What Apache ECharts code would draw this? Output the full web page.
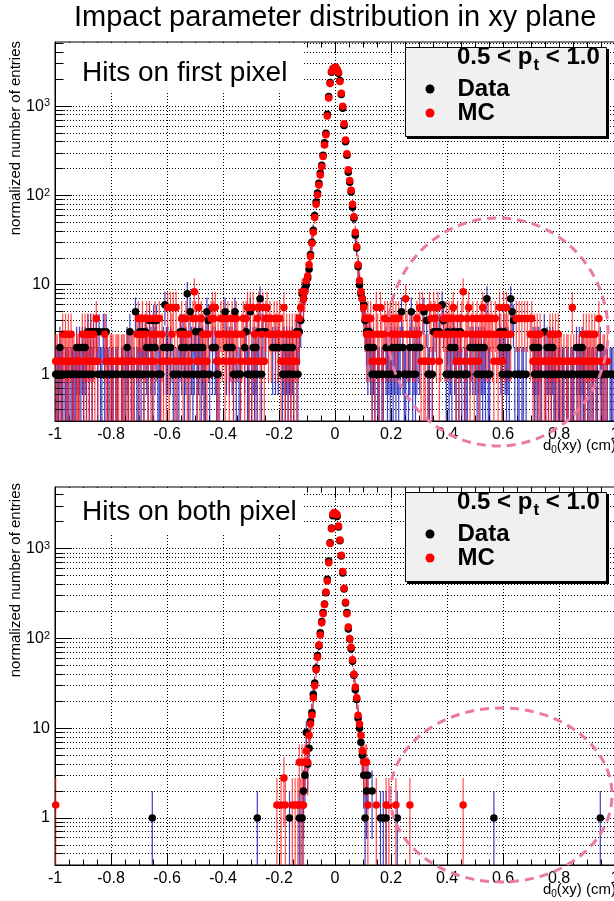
<!DOCTYPE html>
<html>
<head>
<meta charset="utf-8">
<script src="https://cdn.jsdelivr.net/npm/echarts@6/dist/echarts.min.js"></script>
<style>html,body{margin:0;padding:0;background:#fff}#c{width:614px;height:901px}</style>
</head>
<body>
<div id="c"></div>
<script>
// ---------------- data ----------------
const binLow = -1;          // histogram range [-1, 1] cm
const binWidth = 0.005;     // 400 bins
const mcWeight = 1.4;       // weight of one MC entry (for MC error bars)
const titleText = 'Impact parameter distribution in xy plane';
const panelLabels = ['Hits on first pixel', 'Hits on both pixel'];
const seriesNames = ['Data', 'MC'];
const yGridValues = [0.4,0.5,0.6,0.7,0.8,0.9,1,2,3,4,5,6,7,8,9,10,20,30,40,50,60,70,80,90,
  100,200,300,400,500,600,700,800,900,1000,2000,3000,4000,5000];
const yDecades = [1, 10, 100, 1000];

// top panel: hits on first pixel
const topData = [
1,1,1,2,1,1,0,1,1,1,0,1,1,1,1,2,1,2,1,2,
1,2,1,3,1,3,1,3,0,3,1,3,1,1,3,1,3,1,1,0,
1,1,0,1,1,0,0,1,1,0,1,2,1,3,1,0,1,5,1,1,
3,1,3,1,3,2,1,4,2,1,4,2,4,1,1,1,0,2,6,2,
2,0,2,0,1,0,1,0,1,3,2,3,1,2,8,1,5,2,1,2,
3,1,2,3,1,2,1,1,5,4,1,0,2,0,2,1,1,0,0,0,
0,5,2,0,2,0,2,1,5,1,0,1,1,0,0,2,3,1,1,5,
1,2,1,2,1,3,7,1,3,0,3,0,0,0,0,2,0,2,0,2,
0,0,1,2,1,2,1,2,1,2,1,0,3,1,3,4,8,7,9,10,
12,15,22,30,41,60,85,107,138,178,219,284,390,500,814,1290,1850,2400,2600,2700,
2650,2550,2350,1950,1360,950,610,400,284,183,141,110,74,56,36,26,16,10,8,7,
6,4,3,2,3,2,1,2,1,0,1,1,0,1,1,0,2,1,2,1,
2,1,2,1,2,1,2,5,2,1,1,0,1,2,5,1,2,1,2,0,
2,0,0,5,0,4,1,1,0,1,3,0,3,0,3,0,6,4,0,1,
3,1,2,1,3,2,1,3,1,3,1,0,1,1,1,0,2,0,2,0,
2,1,2,1,2,1,2,1,7,1,1,0,0,0,0,0,0,3,2,1,
3,2,1,2,1,7,5,4,1,0,1,1,0,1,1,0,1,0,0,0,
0,2,1,2,1,2,1,1,0,3,1,2,1,2,1,2,1,1,0,1,
1,0,1,1,0,1,1,0,1,1,1,0,2,1,2,1,2,1,1,0,
1,1,0,1,1,0,1,1,0,2,1,1,0,1,1,0,1,1,1,0
];
const topMC = [
1.4,1.4,0,1.4,1.4,2.8,1.4,2.8,1.4,2.8,1.4,2.8,1.4,1.4,0,1.4,1.4,1.4,0,2.8,
1.4,2.8,1.4,2.8,1.4,2.8,1.4,2.8,1.4,4.2,1.4,0,0,0,0,2.8,1.4,1.4,0,1.4,
1.4,1.4,0,1.4,1.4,1.4,0,1.4,1.4,1.4,0,1.4,1.4,0,1.4,1.4,1.4,0,2.8,4.2,
1.4,2.8,4.2,1.4,2.8,4.2,1.4,4.2,1.4,2.8,1.4,4.2,2.8,0,4.2,1.4,2.8,1.4,0,1.4,
5.6,1.4,5.6,2.8,5.6,1.4,5.6,1.4,0,2.8,4.2,1.4,2.8,4.2,1.4,2.8,1.4,0,4.2,8.4,
4.2,1.4,5.6,1.4,4.2,2.8,1.4,2.8,1.4,2.8,0,4.2,5.6,4.2,5.6,1.4,2.8,1.4,4.2,2.8,
4.2,1.4,2.8,4.2,1.4,2.8,4.2,1.4,2.8,4.2,2.8,0,1.4,2.8,4.2,1.4,4.2,5.6,1.4,5.6,
1.4,5.6,2.8,1.4,4.2,5.6,1.4,2.8,5.6,1.4,4.2,5.6,2.8,4.2,2.8,0,4.2,2.8,4.2,2.8,
4.2,1.4,2.8,5.6,1.4,2.8,1.4,2.8,1.4,2.8,1.4,2.8,1.4,2.8,4.2,5.6,8.4,7,8.4,11.2,
12.6,16.8,21,29.4,39,57,80,102,132,170,210,275,370,480,780,1240,1800,2450,2650,2600,
2750,2600,2400,1900,1400,1000,640,420,295,195,148,115,80,58,39,27,16.8,11.2,8.4,7,
5.6,4.2,2.8,4.2,2.8,4.2,1.4,2.8,1.4,5.6,2.8,1.4,5.6,2.8,1.4,4.2,2.8,4.2,2.8,4.2,
2.8,4.2,2.8,4.2,2.8,4.2,0,0,2.8,0,7,2.8,0,2.8,0,2.8,0,2.8,4.2,2.8,
5.6,1.4,5.6,1.4,1.4,0,1.4,5.6,4.2,1.4,5.6,4.2,2.8,5.6,1.4,2.8,0,4.2,2.8,4.2,
2.8,4.2,2.8,4.2,5.6,2.8,1.4,4.2,1.4,2.8,4.2,8.4,1.4,2.8,4.2,5.6,1.4,2.8,4.2,1.4,
2.8,4.2,1.4,2.8,4.2,5.6,2.8,4.2,2.8,4.2,2.8,4.2,2.8,1.4,4.2,2.8,1.4,5.6,2.8,1.4,
5.6,2.8,5.6,2.8,0,2.8,0,0,0,4.2,0,4.2,0,4.2,0,4.2,0,4.2,0,2.8,
4.2,1.4,2.8,1.4,2.8,1.4,2.8,1.4,0,1.4,1.4,0,1.4,2.8,1.4,2.8,1.4,2.8,1.4,2.8,
1.4,1.4,0,1.4,0,1.4,1.4,0,1.4,5.6,1.4,0,1.4,0,1.4,0,1.4,2.8,1.4,2.8,
1.4,2.8,1.4,2.8,1.4,2.8,1.4,0,4.2,1.4,0,1.4,1.4,0,1.4,0,0,0,0,0
];

// bottom panel: hits on both pixel
const bottomData = [
0,0,0,0,0,0,0,0,0,0,0,0,0,0,0,0,0,0,0,0,
0,0,0,0,0,0,0,0,0,0,0,0,0,0,0,0,0,0,0,0,
0,0,0,0,0,0,0,0,0,0,0,0,0,0,0,0,0,0,0,0,
0,0,0,0,0,0,0,0,0,1,0,0,0,0,0,0,0,0,0,0,
0,0,0,0,0,0,0,0,0,0,0,0,0,0,0,0,0,0,0,0,
0,0,0,0,0,0,0,0,0,0,0,0,0,0,0,0,0,0,0,0,
0,0,0,0,0,0,0,0,0,0,0,0,0,0,0,0,0,0,0,0,
0,0,0,0,1,0,0,0,0,0,0,0,0,0,0,0,0,0,0,0,
0,0,0,0,0,0,0,1,0,0,0,0,0,0,1,0,1,2,3,9,
4,6,12,15,24,32,47,65,83,116,155,195,243,325,460,735,1170,1710,2350,2500,
2450,2300,1760,1230,835,540,358,250,195,128,99,77,56,39,27,21,13,10,7,5,
3,1,2,3,0,0,2,0,0,0,0,0,1,0,1,0,1,0,0,0,
0,0,0,0,1,0,0,0,0,0,0,0,0,0,0,0,0,0,0,0,
0,0,0,0,0,0,0,0,0,0,0,0,0,0,0,0,0,0,0,0,
0,0,0,0,0,0,0,0,0,0,0,0,0,0,0,0,0,0,0,0,
0,0,0,0,0,0,0,0,0,0,0,0,0,1,0,0,0,0,0,0,
0,0,0,0,0,0,0,0,0,0,0,0,0,0,0,0,0,0,0,0,
0,0,0,0,0,0,0,0,0,0,0,0,0,0,0,0,0,0,0,0,
0,0,0,0,0,0,0,0,0,0,0,0,0,0,0,0,0,0,0,0,
0,0,0,0,0,0,0,0,0,1,0,0,0,0,0,0,0,0,0,0
];
const bottomMC = [
1.4,0,0,0,0,0,0,0,0,0,0,0,0,0,0,0,0,0,0,0,
0,0,0,0,0,0,0,0,0,0,0,0,0,0,0,0,0,0,0,0,
0,0,0,0,0,0,0,0,0,0,0,0,0,0,0,0,0,0,0,0,
0,0,0,0,0,0,0,0,0,0,0,0,0,0,0,0,0,0,0,0,
0,0,0,0,0,0,0,0,0,0,0,0,0,0,0,0,0,0,0,0,
0,0,0,0,0,0,0,0,0,0,0,0,0,0,0,0,0,0,0,0,
0,0,0,0,0,0,0,0,0,0,0,0,0,0,0,0,0,0,0,0,
0,0,0,0,0,0,0,0,0,0,0,0,0,0,0,0,0,0,1.4,0,
0,1.4,0,2.8,1.4,0,0,0,0,1.4,0,1.4,0,1.4,4.2,1.4,4.2,1.4,4.2,5.6,
4.2,8.4,11.2,14,22,30,45,62,85,110,150,190,240,330,440,700,1150,1680,2450,2550,
2500,2400,1800,1260,850,560,365,255,190,135,100,80,58,40,29,22,14,11.2,8.4,5.6,
4.2,4.2,4.2,1.4,0,0,0,0,0,1.4,0,0,0,0,0,0,1.4,0,1.4,0,
0,0,0,1.4,0,0,0,0,0,0,0,0,0,1.4,0,0,0,0,0,0,
0,0,0,0,0,0,0,0,0,0,0,0,0,0,0,0,0,0,0,0,
0,0,0,0,0,0,0,0,0,0,0,1.4,0,0,0,0,0,0,0,0,
0,0,0,0,0,0,0,0,0,0,0,0,0,0,0,0,0,0,0,0,
0,0,0,0,0,0,0,0,0,0,0,0,0,0,0,0,0,0,0,0,
0,0,0,0,0,0,0,0,0,0,0,0,0,0,0,0,0,0,0,0,
0,0,0,0,0,0,0,0,0,0,0,0,0,0,0,0,0,0,0,0,
0,0,0,0,0,0,0,0,0,0,0,0,0,0,0,0,0,0,0,0
];

// ---------------- chart ----------------
const FONT = 'Liberation Sans, Arial, Helvetica, sans-serif';
const yMinVal = 0.3;
const binCenters = topData.map((_, i) => +(binLow + binWidth * (i + 0.5)).toFixed(4));

// [x, y, y - err, y + err] (lower end below the axis when y - err <= 0)
function points(vals, errFn) {
  const out = [];
  vals.forEach((v, i) => {
    if (v > 0) {
      const e = errFn(v);
      out.push([binCenters[i], v, v - e > 0 ? v - e : yMinVal / 10, v + e]);
    }
  });
  return out;
}
const crisp = v => Math.round(v - 0.5) + 0.5;

function gridLine(params, api) {
  const cs = params.coordSys;
  const y = crisp(api.coord([0, api.value(1)])[1]);
  return { type: 'line', silent: true,
    shape: { x1: cs.x, y1: y, x2: cs.x + cs.width, y2: y },
    style: { stroke: '#000', lineWidth: 1, lineDash: [1, 2] } };
}
function tickMark(params, api) {
  const cs = params.coordSys;
  const major = api.value(2) === 1;
  const y = crisp(api.coord([0, api.value(1)])[1]);
  return { type: 'line', silent: true,
    shape: { x1: cs.x, y1: y, x2: cs.x + (major ? 17 : 8.5), y2: y },
    style: { stroke: '#000', lineWidth: 1 } };
}
function errBar(color) {
  return function (params, api) {
    const cs = params.coordSys;
    const px = api.coord([api.value(0), api.value(1)])[0];
    const bottom = cs.y + cs.height;
    let yLo = api.coord([api.value(0), api.value(2)])[1];
    let yHi = api.coord([api.value(0), api.value(3)])[1];
    yLo = Math.min(yLo, bottom);
    yHi = Math.max(yHi, cs.y);
    return { type: 'line', silent: true,
      shape: { x1: px, y1: yLo, x2: px, y2: yHi },
      style: { stroke: color, lineWidth: 1.2 } };
  };
}
function yLabel(v) {
  const l = Math.log10(v), e = Math.round(l);
  if (Math.abs(l - e) > 1e-6) return '';
  if (e === 0) return '{b|1}';
  if (e === 1) return '{b|10}';
  return '{b|10}{s|' + e + '}';
}

const panels = [
  { data: topData, mc: topMC, yMax: 5250, top: 42, height: 379, label: panelLabels[0] },
  { data: bottomData, mc: bottomMC, yMax: 4900, top: 487, height: 378, label: panelLabels[1] }
];

const grids = panels.map(p => ({ left: 55, top: p.top, width: 560, height: p.height,
  outerBoundsMode: 'none', containLabel: false,
  show: true, borderColor: '#000', borderWidth: 1, backgroundColor: 'rgba(0,0,0,0)' }));

const xBottom = panels.map((p, g) => ({
  gridIndex: g, type: 'value', min: -1, max: 1, interval: 0.2, position: 'bottom',
  axisLine: { show: true, onZero: false, lineStyle: { color: '#000', width: 1 } },
  axisTick: { show: true, inside: true, length: 11, lineStyle: { color: '#000' } },
  minorTick: { show: true, splitNumber: 4, length: 5.5, lineStyle: { color: '#000' } },
  axisLabel: { color: '#000', fontSize: 16, fontFamily: FONT, margin: 6, showMinLabel: true, showMaxLabel: true },
  splitLine: { show: true, lineStyle: { color: '#000', width: 1, type: [1, 2] } }
}));
const xTop = panels.map((p, g) => ({
  gridIndex: g, type: 'value', min: -1, max: 1, interval: 0.2, position: 'top',
  axisLine: { show: false },
  axisTick: { show: true, inside: true, length: 11, lineStyle: { color: '#000' } },
  minorTick: { show: true, splitNumber: 4, length: 5.5, lineStyle: { color: '#000' } },
  axisLabel: { show: false }, splitLine: { show: false }
}));
const yAxes = panels.map((p, g) => ({
  gridIndex: g, type: 'log', logBase: 10, min: yMinVal, max: p.yMax,
  axisLine: { show: true, onZero: false, lineStyle: { color: '#000', width: 1 } },
  axisTick: { show: false }, splitLine: { show: false }, minorTick: { show: false },
  axisLabel: { formatter: yLabel, margin: 5,
    rich: { b: { fontSize: 16, fontFamily: FONT, color: '#000' },
            s: { fontSize: 11, fontFamily: FONT, color: '#000', verticalAlign: 'top', padding: [0, 0, 6, 0] } } }
}));

const series = [];
panels.forEach((p, g) => {
  const gridData = yGridValues.filter(v => v < p.yMax).map(v => [0, v, yDecades.includes(v) ? 1 : 0]);
  const dPts = points(p.data, v => Math.sqrt(v));
  const mPts = points(p.mc, v => Math.sqrt(mcWeight * v));
  series.push(
    { type: 'custom', name: 'ygrid' + g, xAxisIndex: g, yAxisIndex: g, z: 1, silent: true,
      data: gridData, encode: { x: 0, y: 1 }, renderItem: gridLine },
    { type: 'custom', name: 'yticks' + g, xAxisIndex: g, yAxisIndex: g, z: 3, silent: true,
      data: gridData, encode: { x: 0, y: 1 }, renderItem: tickMark },
    { type: 'custom', name: 'Data error ' + g, xAxisIndex: g, yAxisIndex: g, z: 2, silent: true,
      data: dPts, encode: { x: 0, y: 1 }, renderItem: errBar('rgba(0,0,175,0.75)') },
    { type: 'scatter', name: seriesNames[0], xAxisIndex: g, yAxisIndex: g, z: 2, silent: true,
      data: dPts.map(d => [d[0], d[1]]), symbol: 'circle', symbolSize: 7.5, itemStyle: { color: '#000', opacity: 1 } },
    { type: 'custom', name: 'MC error ' + g, xAxisIndex: g, yAxisIndex: g, z: 2, silent: true,
      data: mPts, encode: { x: 0, y: 1 }, renderItem: errBar('rgba(255,20,20,0.75)') },
    { type: 'scatter', name: seriesNames[1], xAxisIndex: g, yAxisIndex: g, z: 2, silent: true,
      data: mPts.map(d => [d[0], d[1]]), symbol: 'circle', symbolSize: 7.5, itemStyle: { color: '#ff0000', opacity: 1 } }
  );
});

const legendRich = { t: { fontSize: 24, fontWeight: 'bold', fontFamily: FONT, color: '#000', lineHeight: 30, padding: [0, 0, 0, 18] } };
const legends = panels.map((p, g) => ({
  data: seriesNames, orient: 'vertical', left: 425.5, top: p.top + 35, padding: 0,
  itemWidth: 9, itemHeight: 9, itemGap: 0, icon: 'circle', selectedMode: false,
  formatter: n => '{t|' + n + '}', textStyle: { rich: legendRich }
}));

const graphics = [];
panels.forEach((p, g) => {
  const t = p.top;
  graphics.push({ type: 'rect', z: 1.5, silent: true,
    shape: { x: 56, y: t + 1, width: 247, height: g === 0 ? 50 : 47 }, style: { fill: '#fff' } });
  graphics.push({ type: 'text', z: 4, silent: true, x: 82, y: t + (g === 0 ? 31 : 25),
    style: { text: p.label, fontSize: 28, fontFamily: FONT, fill: '#000', align: 'left', verticalAlign: 'middle' } });
  graphics.push({ type: 'rect', z: 3.4, silent: true,
    shape: { x: 407, y: t + 7, width: 202, height: 90 }, style: { fill: '#000' } });
  graphics.push({ type: 'rect', z: 3.5, silent: true,
    shape: { x: 405.5, y: t + 5.5, width: 201, height: 89 }, style: { fill: '#f0f0f0', stroke: '#000', lineWidth: 1 } });
  graphics.push({ type: 'text', z: 4, silent: true, x: 457, y: t + 15,
    style: { text: '{a|0.5 < p}{s|t}{a| < 1.0}', align: 'left', verticalAlign: 'middle',
      rich: { a: { fontSize: 24, fontWeight: 'bold', fontFamily: FONT, fill: '#000' },
              s: { fontSize: 17, fontWeight: 'bold', fontFamily: FONT, fill: '#000', padding: [16, 0, 0, 1] } } } });
  graphics.push({ type: 'text', z: 4, silent: true, x: 616, y: t + p.height + 25,
    style: { text: '{a|d}{s|0}{a|(xy) (cm)}', align: 'right', verticalAlign: 'middle',
      rich: { a: { fontSize: 15, fontFamily: FONT, fill: '#000' },
              s: { fontSize: 10, fontFamily: FONT, fill: '#000', padding: [8, 0, 0, 0] } } } });
  graphics.push({ type: 'text', z: 4, silent: true, x: 16, y: t - 1 - (g === 0 ? 0 : 3), rotation: Math.PI / 2,
    style: { text: 'normalized number of entries', fontSize: 15, fontFamily: FONT, fill: '#000', align: 'right', verticalAlign: 'middle' } });
});
graphics.push({ type: 'ellipse', z: 6, silent: true, shape: { cx: 498, cy: 332, rx: 110, ry: 114 },
  style: { fill: 'none', stroke: '#ea7aa4', lineWidth: 3, lineDash: [9, 6] } });
graphics.push({ type: 'ellipse', z: 6, silent: true, shape: { cx: 501, cy: 795, rx: 111, ry: 87 },
  style: { fill: 'none', stroke: '#ea7aa4', lineWidth: 3, lineDash: [9, 6] } });

const chart = echarts.init(document.getElementById('c'), null, { renderer: 'canvas', width: 614, height: 901 });
chart.setOption({
  animation: false,
  backgroundColor: '#fff',
  title: { text: titleText, left: 74, top: 3, padding: 0,
    textStyle: { fontSize: 29, fontWeight: 'normal', fontFamily: FONT, color: '#000' } },
  grid: grids,
  xAxis: xBottom.concat(xTop),
  yAxis: yAxes,
  legend: legends,
  series: series,
  graphic: { elements: graphics }
});
</script>
</body>
</html>
